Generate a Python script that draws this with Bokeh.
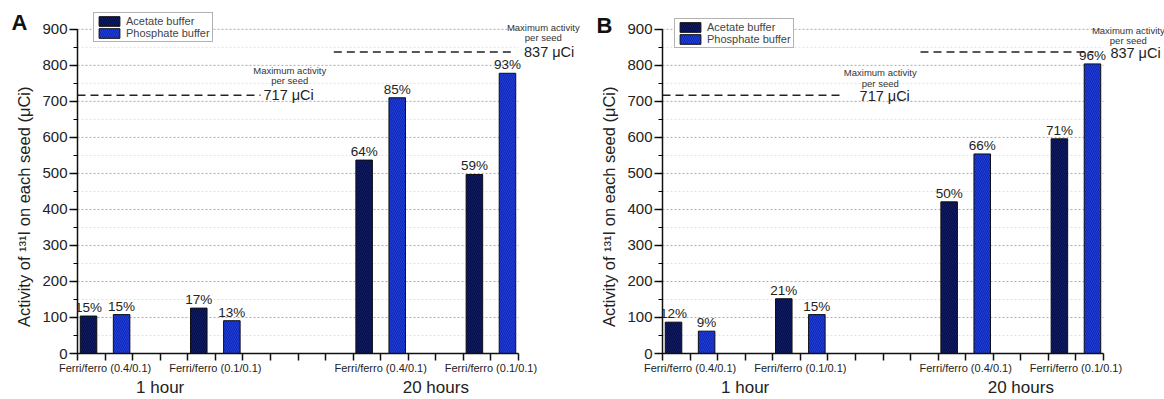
import numpy as np
from bokeh.plotting import figure
from bokeh.models import (ColumnDataSource, LabelSet, Label, Legend, LegendItem,
                          FixedTicker, SingleIntervalTicker, Range1d, LinearAxis)
from bokeh.core.properties import value
from bokeh.layouts import row
from bokeh.embed import file_html
from bokeh.resources import INLINE

# ---------------- data ----------------
group_labels = ["Ferri/ferro (0.4/0.1)", "Ferri/ferro (0.1/0.1)",
                "Ferri/ferro (0.4/0.1)", "Ferri/ferro (0.1/0.1)"]
group_pos = [1, 5, 11, 15]
time_labels = ["1 hour", "20 hours"]
time_pos = [3, 13]
series_names = ["Acetate buffer", "Phosphate buffer"]

a_acetate = [104, 126, 537, 497]
a_phosphate = [108, 91, 710, 778]
a_acetate_pct = ["15%", "17%", "64%", "59%"]
a_phosphate_pct = ["15%", "13%", "85%", "93%"]

b_acetate = [87, 152, 421, 596]
b_phosphate = [62, 108, 554, 804]
b_acetate_pct = ["12%", "21%", "50%", "71%"]
b_phosphate_pct = ["9%", "15%", "66%", "96%"]

max_activity = [717, 837]

FONT = "Liberation Sans"
AC_COL = "#0f1c6e"
PH_COL = "#1f3fe6"

X_MAX = 16
Y_MAX = 900
PX_X = 441 / 16.0      # pixels per x unit
PX_Y = 326 / 900.0     # pixels per y unit
FIG_W = 582
FIG_H = 399
BOTTOM = 44


def make_panel(letter, letter_y, acetate, phosphate, ac_pct, ph_pct, border_left,
               legend_loc, line_spans, ann):
    frame_w = FIG_W - border_left
    frame_h = FIG_H - BOTTOM
    p = figure(width=FIG_W, height=FIG_H, output_backend="svg", toolbar_location=None,
               x_range=Range1d(0, frame_w / PX_X), y_range=Range1d(0, frame_h / PX_Y),
               min_border_left=border_left, min_border_right=0,
               min_border_top=0, min_border_bottom=BOTTOM)
    p.outline_line_color = None
    p.background_fill_color = "white"
    p.xgrid.visible = False
    p.ygrid.visible = False

    # grid lines limited to the data area
    gy = np.arange(50, Y_MAX + 1, 50)
    minor = gy[gy % 100 != 0]
    major = gy[gy % 100 == 0]
    p.segment(x0=np.zeros(len(minor)), y0=minor, x1=np.full(len(minor), X_MAX), y1=minor,
              line_color="#e2e2e2", line_dash="2 2", line_width=1)
    p.segment(x0=np.zeros(len(major)), y0=major, x1=np.full(len(major), X_MAX), y1=major,
              line_color="#aaaaaa", line_dash="2 2", line_width=1)

    gp = np.array(group_pos, dtype=float)
    src_a = ColumnDataSource(dict(x=gp - 0.6, top=acetate, pct=ac_pct))
    src_p = ColumnDataSource(dict(x=gp + 0.6, top=phosphate, pct=ph_pct))
    ra = p.vbar(x="x", top="top", width=0.6, source=src_a, fill_color=AC_COL,
                line_color="#111111", line_width=1, hatch_pattern="\\",
                hatch_color="#040a30", hatch_alpha=0.8, hatch_scale=4, hatch_weight=1)
    rp = p.vbar(x="x", top="top", width=0.6, source=src_p, fill_color=PH_COL,
                line_color="#111111", line_width=1, hatch_pattern="\\",
                hatch_color="#0b1f95", hatch_alpha=0.8, hatch_scale=4, hatch_weight=1)
    for s in (src_a, src_p):
        p.add_layout(LabelSet(x="x", y="top", text="pct", source=s, text_align="center",
                              text_baseline="bottom", y_offset=1, text_font=value(FONT),
                              text_font_size="13.5px", text_color="#222222"))

    # maximum activity dashed lines
    x0 = [sp[0] for sp in line_spans]
    x1 = [sp[1] for sp in line_spans]
    p.segment(x0=x0, y0=max_activity, x1=x1, y1=max_activity, line_color="#222222",
              line_width=1.5, line_dash="8 5")
    for (tx, ty, mx, my1, my2), val in zip(ann, max_activity):
        p.add_layout(Label(x=tx, y=ty, text=f"{val} μCi", text_font=FONT,
                           text_font_size="14.5px", text_baseline="middle",
                           text_align="left", text_color="#222222"))
        p.add_layout(Label(x=mx, y=my1, text="Maximum activity", text_font=FONT,
                           text_font_size="9.5px", text_baseline="middle",
                           text_align="center", text_color="#333333"))
        p.add_layout(Label(x=mx, y=my2, text="per seed", text_font=FONT,
                           text_font_size="9.5px", text_baseline="middle",
                           text_align="center", text_color="#333333"))

    # main axes
    p.xaxis.bounds = (0, X_MAX)
    p.xaxis.ticker = FixedTicker(ticks=list(range(0, X_MAX + 1)))
    overrides = {i: "" for i in range(0, X_MAX + 1)}
    for lab, pos in zip(group_labels, group_pos):
        overrides[pos] = lab
    p.xaxis.major_label_overrides = overrides
    p.xaxis.major_label_text_font = FONT
    p.xaxis.major_label_text_font_size = "11px"
    p.xaxis.major_label_standoff = 1
    p.xaxis.major_tick_out = 7
    p.xaxis.major_tick_in = 0
    p.xaxis.minor_tick_line_color = None
    p.xaxis.axis_line_width = 1.5
    p.xaxis.major_tick_line_width = 1.5

    p.yaxis.bounds = (0, Y_MAX)
    p.yaxis.ticker = SingleIntervalTicker(interval=100, num_minor_ticks=2)
    p.yaxis.major_label_text_font = FONT
    p.yaxis.major_label_text_font_size = "15px"
    p.yaxis.major_label_standoff = 2
    p.yaxis.major_tick_out = 8
    p.yaxis.major_tick_in = 0
    p.yaxis.minor_tick_out = 4
    p.yaxis.minor_tick_in = 0
    p.yaxis.axis_line_width = 1.5
    p.yaxis.major_tick_line_width = 1.5
    p.yaxis.axis_label = "Activity of ¹³¹I on each seed (μCi)" + "\u00a0" * 13
    p.yaxis.axis_label_text_font = FONT
    p.yaxis.axis_label_text_font_style = "normal"
    p.yaxis.axis_label_text_font_size = "16.5px"
    p.yaxis.axis_label_standoff = 6
    p.yaxis.axis_label_text_color = "#222222"
    for ax in (p.xaxis, p.yaxis):
        ax.axis_line_color = "#111111"
        ax.major_tick_line_color = "#111111"
        ax.major_label_text_color = "#222222"

    # time labels as a second bottom axis
    tax = LinearAxis(ticker=FixedTicker(ticks=time_pos),
                     major_label_overrides={tp: tl for tp, tl in zip(time_pos, time_labels)})
    tax.axis_line_color = None
    tax.major_tick_line_color = None
    tax.minor_tick_line_color = None
    tax.major_tick_out = 0
    tax.major_tick_in = 0
    tax.major_label_standoff = 1
    tax.major_label_text_font = FONT
    tax.major_label_text_font_size = "17px"
    tax.major_label_text_color = "#222222"
    p.add_layout(tax, "below")

    # panel letter as an outer left axis label
    lax = LinearAxis(ticker=FixedTicker(ticks=[letter_y]),
                     major_label_overrides={letter_y: letter})
    lax.axis_line_color = None
    lax.major_tick_line_color = None
    lax.minor_tick_line_color = None
    lax.major_tick_out = 0
    lax.major_tick_in = 0
    lax.major_label_standoff = -15
    lax.major_label_text_font = FONT
    lax.major_label_text_font_style = "bold"
    lax.major_label_text_font_size = "22px"
    lax.major_label_text_color = "#111111"
    p.add_layout(lax, "left")

    legend = Legend(items=[LegendItem(label=series_names[0], renderers=[ra]),
                           LegendItem(label=series_names[1], renderers=[rp])],
                    location=legend_loc)
    legend.label_text_font = FONT
    legend.label_text_font_size = "11px"
    legend.label_height = 11
    legend.glyph_height = 12
    legend.glyph_width = 26
    legend.label_standoff = 4
    legend.spacing = 0
    legend.padding = 2
    legend.margin = 0
    legend.border_line_color = "#666666"
    legend.background_fill_color = "white"
    legend.background_fill_alpha = 1
    p.add_layout(legend)
    return p


pA = make_panel("A", 919, a_acetate, a_phosphate, a_acetate_pct, a_phosphate_pct,
                77, (16, 311), [(0, 6.64), (9.3, 15.8)],
                [(6.75, 717, 7.7, 785, 759), (16.2, 837, 16.9, 905, 878)])
pB = make_panel("B", 911, b_acetate, b_phosphate, b_acetate_pct, b_phosphate_pct,
                80, (12, 305), [(0, 6.57), (9.36, 15.64)],
                [(7.15, 714, 7.9, 779, 751), (16.25, 834, 16.9, 897, 870)])

layout = row(pA, pB)
open("out.html", "w").write(file_html(layout, INLINE))
